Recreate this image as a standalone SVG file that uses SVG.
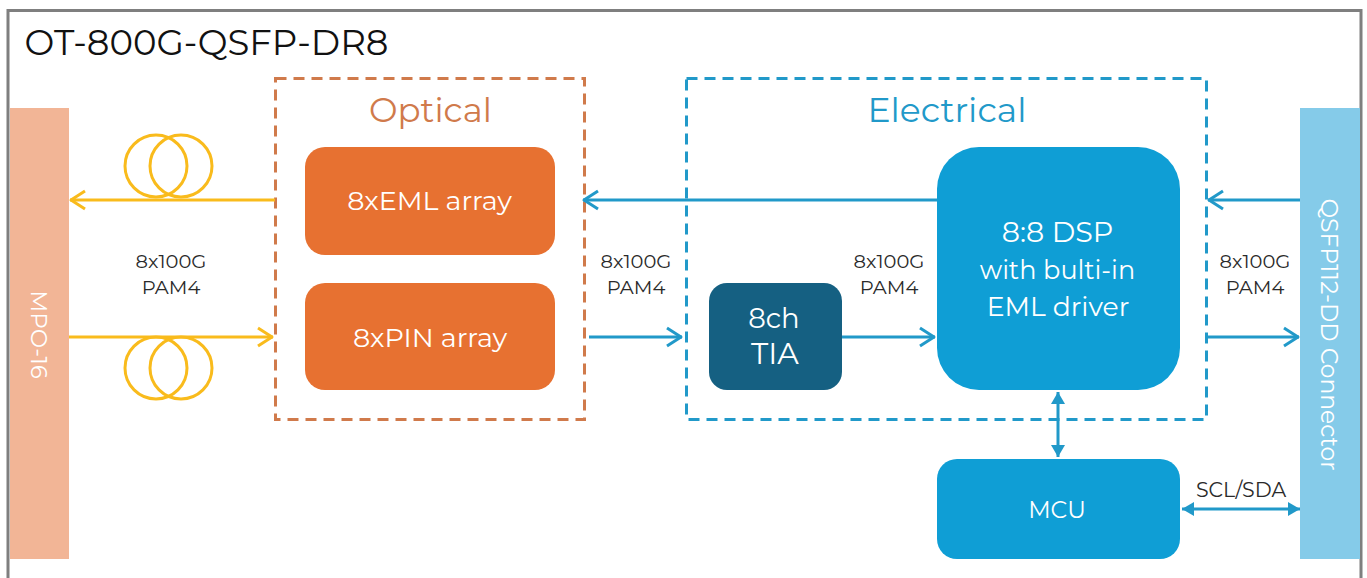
<svg xmlns="http://www.w3.org/2000/svg" width="1367" height="578" viewBox="0 0 1367 578">
<defs>
<style>
text{font-family:"Montserrat","Lato","Liberation Sans",sans-serif;text-anchor:middle}
.w{fill:#fff}
.s{font-size:19.500px;fill:#2a2a2a}
.y{stroke:#f9bb1c;stroke-width:3;fill:none}
.b{stroke:#2199c9;stroke-width:3;fill:none}
</style>
<marker id="ay" markerUnits="userSpaceOnUse" markerWidth="20" markerHeight="22" refX="18" refY="11" orient="auto"><path d="M3 2L17 11L3 20" fill="none" stroke="#f9bb1c" stroke-width="3" stroke-linejoin="round"/></marker>
<marker id="ab" markerUnits="userSpaceOnUse" markerWidth="20" markerHeight="22" refX="18" refY="11" orient="auto"><path d="M3 2L17 11L3 20" fill="none" stroke="#2199c9" stroke-width="3" stroke-linejoin="round"/></marker>
<marker id="tb" markerUnits="userSpaceOnUse" markerWidth="16" markerHeight="16" refX="13" refY="8" orient="auto-start-reverse"><path d="M1 1L13 8L1 15Z" fill="#2199c9"/></marker>
</defs>
<rect width="1367" height="578" fill="#fff"/>
<path d="M8 578V10.500H1361V578" fill="none" stroke="#7f7f7f" stroke-width="3"/>
<text x="206.500" y="55" style="font-size:35.500px;fill:#111">OT-800G-QSFP-DR8</text>
<g id="mpo"><rect x="10" y="108" width="59" height="451" fill="#f2b596"/><text transform="translate(38 334.500) rotate(90)" dy="7" class="w" style="font-size:23px">MPO-16</text></g>
<g id="qsfp"><rect x="1300" y="108" width="60" height="451" fill="#85cbe9"/><text transform="translate(1328 334.500) rotate(90)" dy="7" class="w" style="font-size:23.400px">QSFP112-DD Connector</text></g>
<g id="optical"><rect x="275.500" y="78.500" width="309" height="341" fill="none" stroke="#d07a4b" stroke-width="3" stroke-dasharray="11 7"/><text x="430.500" y="122" style="font-size:34px;fill:#d07a4b">Optical</text></g>
<g id="electrical"><rect x="686.500" y="78.500" width="520" height="341" fill="none" stroke="#2199c9" stroke-width="3" stroke-dasharray="11 7"/><text x="947" y="122" style="font-size:34.600px;fill:#2199c9">Electrical</text></g>
<g id="eml"><rect x="305" y="147" width="250" height="108" rx="20" fill="#e77131"/><text x="429.500" y="210" class="w" style="font-size:27px">8xEML array</text></g>
<g id="pin"><rect x="305" y="283" width="250" height="107" rx="20" fill="#e77131"/><text x="430" y="347" class="w" style="font-size:27px">8xPIN array</text></g>
<g id="tia"><rect x="709" y="283" width="133" height="107" rx="18" fill="#156082"/><text x="774" y="328" class="w" style="font-size:27.500px">8ch</text><text x="775" y="364" class="w" style="font-size:30px">TIA</text></g>
<g id="dsp"><rect x="937" y="147" width="243" height="243" rx="42" fill="#0f9ed5"/><text x="1057.500" y="242" class="w" style="font-size:28.500px">8:8 DSP</text><text x="1057.500" y="279" class="w" style="font-size:25.500px">with bulti-in</text><text x="1058" y="316" class="w" style="font-size:26.700px">EML driver</text></g>
<g id="mcu"><rect x="937" y="459" width="243" height="100" rx="20" fill="#0f9ed5"/><text x="1057" y="518" class="w" style="font-size:23.500px">MCU</text></g>
<g id="coil1"><circle cx="156" cy="166" r="31" class="y"/><circle cx="181" cy="166" r="31" class="y"/></g>
<g id="coil2"><circle cx="156" cy="368" r="31" class="y"/><circle cx="181" cy="368" r="31" class="y"/></g>
<g id="connectors">
<path class="y" d="M275 200H70" marker-end="url(#ay)"/>
<path class="y" d="M69 337H273" marker-end="url(#ay)"/>
<path class="b" d="M937 200H583" marker-end="url(#ab)"/>
<path class="b" d="M1300 200H1208" marker-end="url(#ab)"/>
<path class="b" d="M589 337H682" marker-end="url(#ab)"/>
<path class="b" d="M842 337H935" marker-end="url(#ab)"/>
<path class="b" d="M1206 337H1299" marker-end="url(#ab)"/>
<path class="b" d="M1058 392V457" marker-start="url(#tb)" marker-end="url(#tb)"/>
<path class="b" d="M1182 509H1300" marker-start="url(#tb)" marker-end="url(#tb)"/>
</g>
<g id="labels">
<text x="171" y="268" class="s">8x100G</text><text x="171" y="294" class="s">PAM4</text>
<text x="636" y="268" class="s">8x100G</text><text x="636" y="294" class="s">PAM4</text>
<text x="889" y="268" class="s">8x100G</text><text x="889" y="294" class="s">PAM4</text>
<text x="1255" y="268" class="s">8x100G</text><text x="1255" y="294" class="s">PAM4</text>
<text x="1241" y="497" class="s" style="font-size:20.500px">SCL/SDA</text>
</g>
</svg>
